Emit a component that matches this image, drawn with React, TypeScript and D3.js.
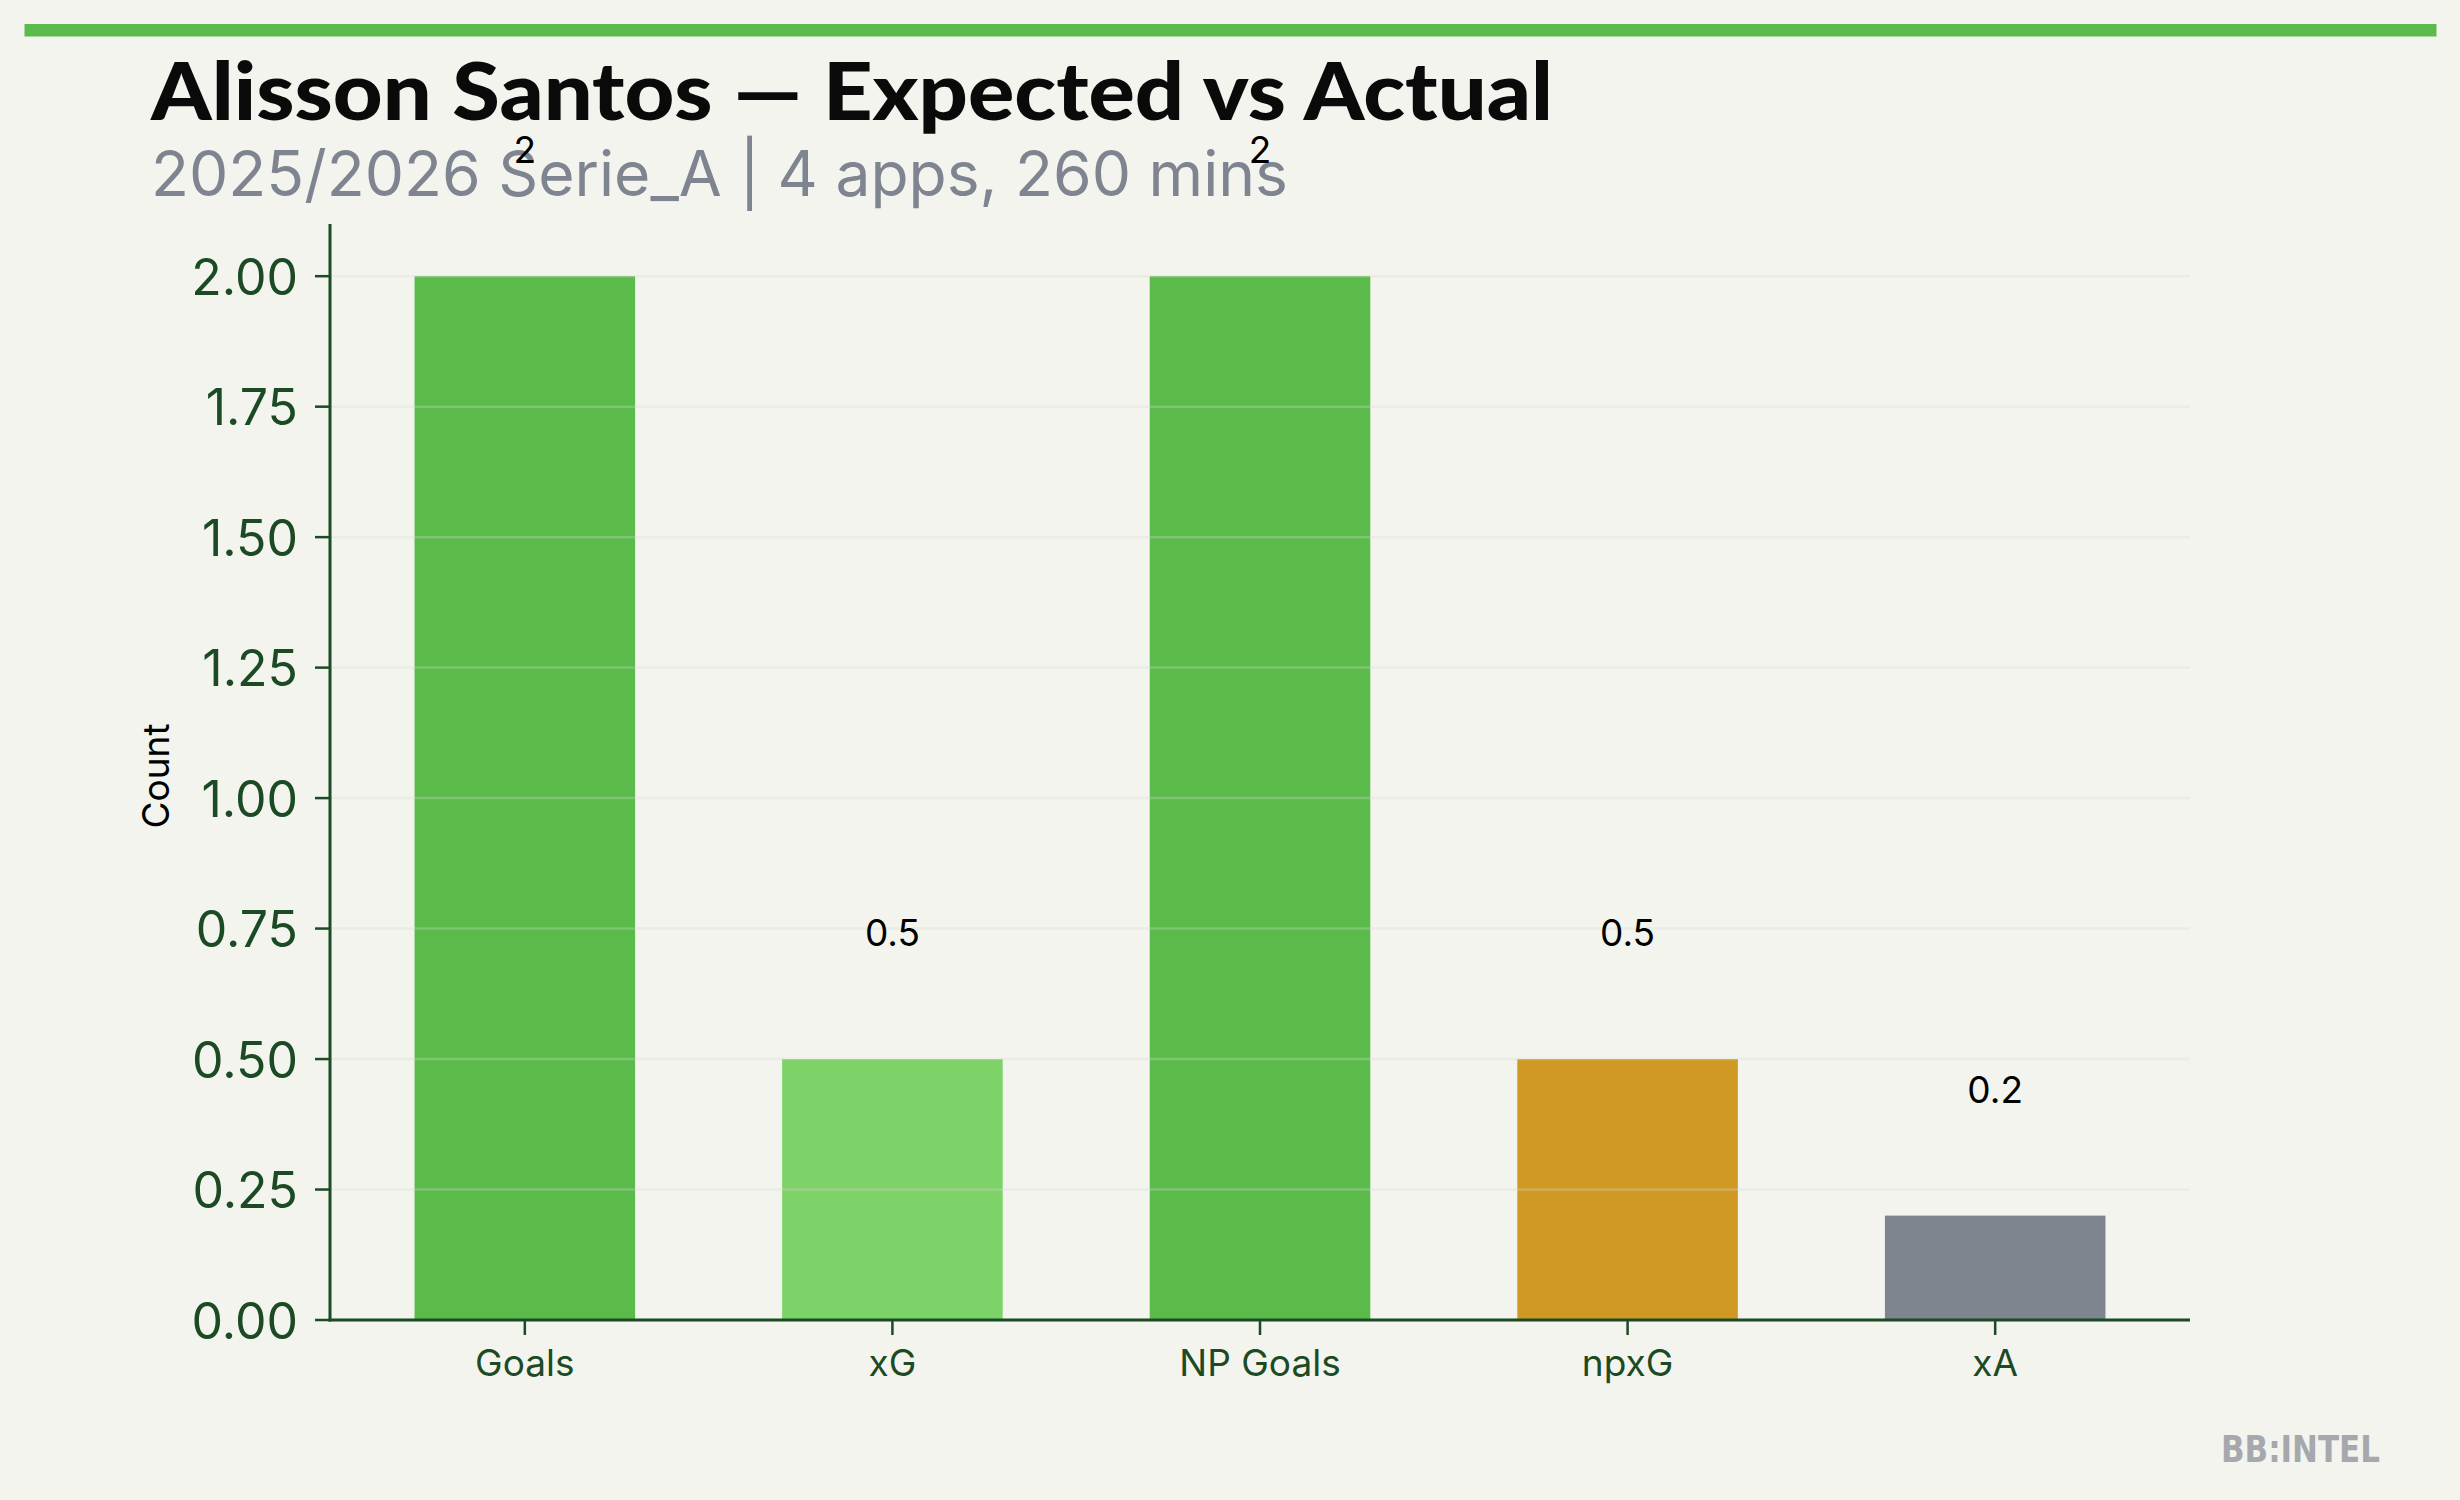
import React from "react";
import * as d3 from "d3";

const categories = ["Goals", "xG", "NP Goals", "npxG", "xA"];
const values = [2, 0.5, 2, 0.5, 0.2];
const valueLabels = ["2", "0.5", "2", "0.5", "0.2"];
const barColors = ["#5aba4a", "#7dd268", "#5aba4a", "#d09923", "#7e858f"];
const yTicks = [0, 0.25, 0.5, 0.75, 1.0, 1.25, 1.5, 1.75, 2.0];

const W = 2460;
const H = 1500;
const BG = "#f3f4ee";
const AXIS = "#1b4a24";

export default function App() {
  const x = d3.scaleLinear().domain([-0.53, 4.53]).range([330, 2190]);
  const y = d3.scaleLinear().domain([0, 2.1]).range([1320, 224]);
  const barW = 0.6;
  const fmt = d3.format(".2f");

  return (
    <svg
      width={W}
      height={H}
      style={{ position: "absolute", left: 0, top: 0, display: "block" }}
      xmlns="http://www.w3.org/2000/svg"
    >
      <rect x={0} y={0} width={W} height={H} fill={BG} />
      <rect x={24.5} y={24} width={2412} height={12.5} fill="#5bba4b" />

      <text
        x={151}
        y={120}
        fontFamily="Lato, 'Noto Sans', sans-serif"
        fontWeight={900}
        fontSize={80}
        fill="#0a0a0a"
        textLength={1402}
        lengthAdjust="spacingAndGlyphs"
      >
        Alisson Santos — Expected vs Actual
      </text>
      <text
        x={151}
        y={196}
        fontFamily="Inter, 'Noto Sans', sans-serif"
        fontSize={63}
        fill="#7f8590"
        textLength={1137}
        lengthAdjust="spacingAndGlyphs"
      >
        2025/2026 Serie_A | 4 apps, 260 mins
      </text>

      {/* bars */}
      {values.map((v, i) => (
        <rect
          key={categories[i]}
          x={x(i - barW / 2)}
          y={y(v)}
          width={x(i + barW / 2) - x(i - barW / 2)}
          height={y(0) - y(v)}
          fill={barColors[i]}
        />
      ))}

      {/* grid lines (drawn over bars) */}
      {yTicks.slice(1).map((t) => (
        <line
          key={"g" + t}
          x1={x.range()[0]}
          x2={x.range()[1]}
          y1={y(t)}
          y2={y(t)}
          stroke="#d8d9d0"
          strokeOpacity={0.3}
          strokeWidth={2.5}
        />
      ))}

      {/* value labels */}
      {values.map((v, i) => (
        <text
          key={"l" + i}
          x={x(i)}
          y={y(v + 0.2) - 8.5}
          textAnchor="middle"
          fontFamily="Inter, sans-serif"
          fontSize={37}
          fill="#000"
        >
          {valueLabels[i]}
        </text>
      ))}

      {/* y axis */}
      <line x1={330} x2={330} y1={y(2.1)} y2={y(0) + 1.5} stroke={AXIS} strokeWidth={3} />
      {yTicks.map((t) => (
        <g key={"yt" + t}>
          <line x1={315} x2={330} y1={y(t)} y2={y(t)} stroke={AXIS} strokeWidth={2.5} />
          <text
            x={298}
            y={y(t) + 18.5}
            textAnchor="end"
            fontFamily="Inter, sans-serif"
            fontSize={50}
            fill={AXIS}
          >
            {fmt(t)}
          </text>
        </g>
      ))}

      {/* x axis */}
      <line x1={x.range()[0] - 1.5} x2={x.range()[1]} y1={y(0)} y2={y(0)} stroke={AXIS} strokeWidth={3} />
      {categories.map((c, i) => (
        <g key={"xt" + c}>
          <line x1={x(i)} x2={x(i)} y1={y(0)} y2={y(0) + 15} stroke={AXIS} strokeWidth={2.5} />
          <text
            x={x(i)}
            y={1376}
            textAnchor="middle"
            fontFamily="Inter, sans-serif"
            fontSize={37}
            fill={AXIS}
          >
            {c}
          </text>
        </g>
      ))}

      <text
        transform="translate(169,776) rotate(-90)"
        textAnchor="middle"
        fontFamily="Inter, sans-serif"
        fontSize={37}
        fill="#000"
      >
        Count
      </text>

      <text
        x={2221}
        y={1462}
        fontFamily="'DejaVu Sans Condensed', 'DejaVu Sans', sans-serif"
        fontWeight={700}
        fontSize={38}
        fill="#a5a9ae"
        textLength={159}
        lengthAdjust="spacingAndGlyphs"
      >
        BB:INTEL
      </text>
    </svg>
  );
}
